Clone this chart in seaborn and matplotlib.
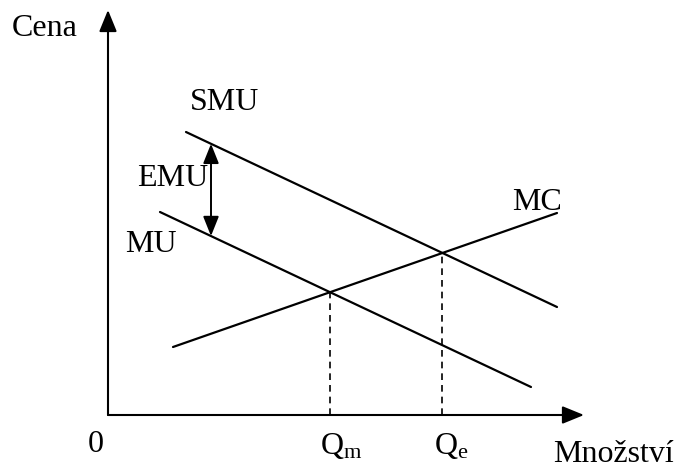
import numpy as np
import pandas as pd
import seaborn as sns
import matplotlib.pyplot as plt

# krivky (mnozstvi, cena) - koncove body
smu_q = [7.8, 44.9]
smu_p = [28.3, 10.8]
mu_q = [5.2, 42.3]
mu_p = [20.3, 2.8]
mc_q = [6.5, 44.9]
mc_p = [6.8, 20.2]
osa_q_max = 47.6
osa_p_max = 40.5
emu_q = 10.3

sns.set_theme(style="white")
plt.rcParams['font.family'] = ['Liberation Serif', 'DejaVu Serif']
plt.rcParams['text.color'] = 'black'
plt.rcParams['mathtext.fontset'] = 'custom'
plt.rcParams['mathtext.rm'] = 'Liberation Serif'
plt.rcParams['mathtext.it'] = 'Liberation Serif'

def primka(q, p):
    k = (p[1] - p[0]) / (q[1] - q[0])
    return k, p[0] - k * q[0]

def prusecik(a, b):
    k1, c1 = a
    k2, c2 = b
    x = (c2 - c1) / (k1 - k2)
    return x, k1 * x + c1

df = pd.concat([
    pd.DataFrame({'q': smu_q, 'p': smu_p, 'krivka': 'SMU'}),
    pd.DataFrame({'q': mu_q, 'p': mu_p, 'krivka': 'MU'}),
    pd.DataFrame({'q': mc_q, 'p': mc_p, 'krivka': 'MC'}),
])

fig = plt.figure(figsize=(6.76, 4.70), dpi=100)
ax = fig.add_axes([0, 0, 1, 1])
ax.set_xlim(-10.8, 56.8)
ax.set_ylim(-5.5, 41.5)
ax.axis('off')

sns.lineplot(data=df, x='q', y='p', units='krivka', estimator=None,
             color='black', linewidth=1.6, ax=ax, legend=False)

# osy
sipka = '-|>,head_length=1.1,head_width=0.45'
ax.annotate('', xy=(0, osa_p_max), xytext=(0, 0),
            arrowprops=dict(arrowstyle=sipka, color='black', lw=1.5,
                            shrinkA=0, shrinkB=0))
ax.annotate('', xy=(osa_q_max, 0), xytext=(0, 0),
            arrowprops=dict(arrowstyle=sipka, color='black', lw=1.5,
                            shrinkA=0, shrinkB=0))

smu = primka(smu_q, smu_p)
mu = primka(mu_q, mu_p)
mc = primka(mc_q, mc_p)
qm, pm = prusecik(mu, mc)
qe, pe = prusecik(smu, mc)
for q0, p0 in [(qm, pm), (qe, pe)]:
    ax.plot([q0, q0], [0, p0], color='black', lw=1.2, ls=(0, (4, 3)))

# EMU sipka
p_hi = smu[0] * emu_q + smu[1]
p_lo = mu[0] * emu_q + mu[1]
ax.annotate('', xy=(emu_q, p_hi), xytext=(emu_q, p_lo),
            arrowprops=dict(arrowstyle='<|-|>,head_length=1.0,head_width=0.4',
                            color='black', lw=1.4, shrinkA=0, shrinkB=0))

fs = 23
ax.text(-6.3, 38.7, 'Cena', fontsize=fs, ha='center', va='center')
ax.text(11.6, 31.2, 'SMU', fontsize=fs, ha='center', va='center')
ax.text(6.5, 23.7, 'EMU', fontsize=fs, ha='center', va='center')
ax.text(4.3, 17.1, 'MU', fontsize=fs, ha='center', va='center')
ax.text(42.9, 21.3, 'MC', fontsize=fs, ha='center', va='center')
ax.text(-1.2, -3.0, '0', fontsize=fs, ha='center', va='center')
ax.text(qm + 1.1, -3.1, r'Q$_\mathrm{m}$', fontsize=fs, ha='center', va='center')
ax.text(qe + 0.9, -3.1, r'Q$_\mathrm{e}$', fontsize=fs, ha='center', va='center')
ax.text(56.6, -3.9, 'Množství', fontsize=fs, ha='right', va='center')

fig.savefig('out.png', dpi=100)
